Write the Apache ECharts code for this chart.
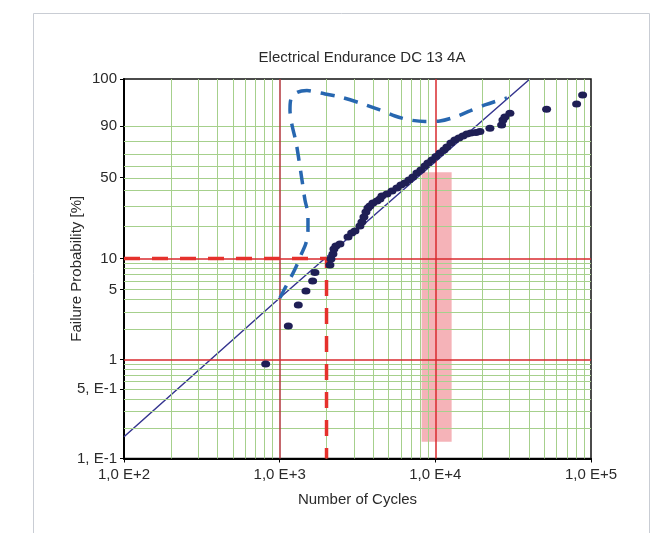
<!DOCTYPE html>
<html>
<head>
<meta charset="utf-8">
<script src="https://cdn.jsdelivr.net/npm/echarts@6/dist/echarts.min.js"></script>
<style>
html,body{margin:0;padding:0;background:#fff;}
#chart{width:658px;height:533px;}
</style>
</head>
<body>
<div id="chart"></div>
<script>
// ---- data (cycles, failure probability in %) ----
const failCycles = [813, 1136, 1317, 1475, 1629, 1685, 2104, 2135, 2199, 2232, 2299, 2439, 2747, 2901, 3045, 3279, 3378, 3478, 3583, 3691, 3802, 3974, 4217, 4408, 4540, 4889, 5264, 5667, 6014, 6377, 6768, 7181, 7617, 8083, 8577, 8965, 9511, 10090, 10705, 11357, 11872, 12595, 13363, 14177, 15043, 15959, 16930, 18230, 19340, 22420, 26660, 27180, 27990, 30140, 51850, 80830, 88330];
const failPct = [0.90, 2.17, 3.51, 4.83, 6.06, 7.34, 8.67, 9.91, 11.07, 12.34, 13.18, 13.75, 16.0, 17.41, 18.15, 20.16, 21.89, 24.24, 26.79, 28.98, 30.15, 31.94, 33.16, 34.44, 36.42, 37.77, 39.87, 42.05, 44.29, 45.81, 48.16, 50.57, 53.86, 56.37, 59.76, 62.33, 64.90, 67.92, 70.83, 73.33, 75.78, 78.90, 81.15, 82.60, 83.98, 85.33, 85.97, 86.30, 86.92, 88.83, 90.61, 93.00, 94.23, 95.53, 96.70, 97.90, 99.14];

const fitCycles = [100, 1000, 40500];
const fitPct = [0.166, 4.12, 99.9];

const boundCycles = [1004, 1066, 1165, 1273, 1370, 1476, 1520, 1520, 1454, 1391, 1330, 1273, 1200, 1165, 1182, 1292, 1497, 1815, 2439, 3279, 4406, 5502, 6871, 8578, 10710, 13370, 16690, 20830, 26000, 28840];
const boundPct = [4.12, 4.94, 6.34, 8.30, 10.82, 14.06, 18.55, 25.24, 33.79, 48.16, 64.90, 79.65, 90.61, 96.52, 98.69, 99.36, 99.49, 99.32, 98.94, 98.08, 96.52, 94.60, 93.00, 92.33, 92.56, 94.23, 96.24, 97.70, 98.56, 98.82];

const b10Cycles = [100, 2000, 2000];
const b10Pct = [10, 10, 0.1];

const bandCycles = [8170, 12730];
const bandPct = [0.148, 54.5];

const yTickPct = [0.1, 0.5, 1, 5, 10, 50, 90, 99.9];
const yTickText = ['1, E-1', '5, E-1', '1', '5', '10', '50', '90', '100'];
const yGridGreen = [0.2, 0.3, 0.4, 0.5, 0.6, 0.7, 0.8, 0.9, 2, 3, 4, 5, 6, 7, 8, 9, 20, 30, 40, 50, 60, 70, 80, 90];
const yGridRed = [1, 10];
const xGridGreen = [200, 300, 400, 500, 600, 700, 800, 900, 2000, 3000, 4000, 5000, 6000, 7000, 8000, 9000, 20000, 30000, 40000, 50000, 60000, 70000, 80000, 90000];
const xGridRed = [1000, 10000];
const xMin = 100, xMax = 100000;

// Weibull probability scale transform
const toW = p => Math.log(-Math.log(1 - p / 100));
const pairs = (xs, ps) => xs.map((x, i) => [x, toW(ps[i])]);
const yTickW = yTickPct.map(toW);

const font = 'Liberation Sans, Arial, sans-serif';
const chart = echarts.init(document.getElementById('chart'), null, {renderer: 'canvas'});
chart.setOption({
  animation: false,
  backgroundColor: '#fff',
  title: {
    text: 'Electrical Endurance DC 13 4A',
    left: 357, textAlign: 'center', top: 45,
    textStyle: {fontFamily: font, fontSize: 15, fontWeight: 'normal', color: '#2a2a2a'}
  },
  graphic: [{
    type: 'polyline', silent: true,
    shape: {points: [[33.5, 533], [33.5, 13.5], [649.5, 13.5], [649.5, 533]]},
    style: {stroke: '#c9cdd4', lineWidth: 1, fill: null}
  }],
  grid: {left: 124, top: 79, width: 467, height: 379.5, show: true, borderColor: '#111', borderWidth: 1.5, backgroundColor: '#fff'},
  xAxis: {
    type: 'log', logBase: 10, min: xMin, max: xMax,
    name: 'Number of Cycles', nameLocation: 'middle', nameGap: 34, nameMoveOverlap: false,
    nameTextStyle: {fontFamily: font, fontSize: 15, color: '#2a2a2a'},
    axisLine: {show: true, onZero: false, lineStyle: {color: '#000', width: 2}},
    axisTick: {show: true, length: 4, lineStyle: {color: '#000'}},
    axisLabel: {fontFamily: font, fontSize: 15, color: '#2a2a2a', margin: 9,
      formatter: v => '1,0 E+' + Math.round(Math.log10(v))},
    splitLine: {show: false}, minorTick: {show: false}
  },
  yAxis: {
    type: 'value', min: toW(0.1), max: toW(99.9),
    name: 'Failure Probability [%]', nameLocation: 'middle', nameGap: 40, nameMoveOverlap: false,
    nameTextStyle: {fontFamily: font, fontSize: 15, color: '#2a2a2a'},
    axisLine: {show: true, onZero: false, lineStyle: {color: '#000', width: 2}},
    axisTick: {show: true, length: 4, customValues: yTickW, lineStyle: {color: '#000'}},
    axisLabel: {fontFamily: font, fontSize: 15, color: '#2a2a2a', margin: 7,
      customValues: yTickW,
      formatter: v => {
        let best = 0;
        yTickW.forEach((w, i) => { if (Math.abs(w - v) < Math.abs(yTickW[best] - v)) best = i; });
        return yTickText[best];
      }},
    splitLine: {show: false}
  },
  series: [
    {
      name: 'grid-green', type: 'line', data: [], z: 1, silent: true,
      markLine: {
        silent: true, symbol: ['none', 'none'], label: {show: false}, animation: false,
        lineStyle: {color: '#a6d08c', width: 1, type: 'solid'},
        data: [...xGridGreen.map(v => ({xAxis: v})), ...yGridGreen.map(p => ({yAxis: toW(p)}))]
      }
    },
    {
      name: 'band', type: 'line', data: [], z: 2, silent: true,
      markArea: {
        silent: true, label: {show: false},
        itemStyle: {color: 'rgba(238,120,128,0.56)'},
        data: [[{xAxis: bandCycles[0], yAxis: toW(bandPct[0])}, {xAxis: bandCycles[1], yAxis: toW(bandPct[1])}]]
      }
    },
    {
      name: 'grid-red', type: 'line', data: [], z: 3, silent: true,
      markLine: {
        silent: true, symbol: ['none', 'none'], label: {show: false}, animation: false,
        lineStyle: {color: '#d82a2e', width: 1.5, type: 'solid'},
        data: [
          ...xGridRed.map((v, i) => ({xAxis: v, lineStyle: {color: i === 0 ? '#b2363c' : '#d82a2e', width: 1.5, type: 'solid'}})),
          ...yGridRed.map(p => ({yAxis: toW(p)}))
        ]
      }
    },
    {
      name: 'fit', type: 'line', z: 4, showSymbol: false, symbol: 'none', clip: true,
      data: pairs(fitCycles, fitPct),
      lineStyle: {color: '#35358f', width: 1.5, type: 'solid'}
    },
    {
      name: 'bound', type: 'line', z: 5, showSymbol: false, symbol: 'none', smooth: 0.3,
      data: pairs(boundCycles, boundPct),
      lineStyle: {color: '#2767b0', width: 3.5, type: [14, 10]}
    },
    {
      name: 'B10', type: 'line', z: 6, showSymbol: false, symbol: 'none',
      data: pairs(b10Cycles, b10Pct),
      lineStyle: {color: '#e5312c', width: 3.5, type: [16, 12]}
    },
    {
      name: 'failures', type: 'scatter', z: 7,
      data: pairs(failCycles, failPct),
      symbol: 'circle', symbolSize: [9, 7],
      itemStyle: {color: '#1f1f55', opacity: 1}
    }
  ]
});
</script>
</body>
</html>
